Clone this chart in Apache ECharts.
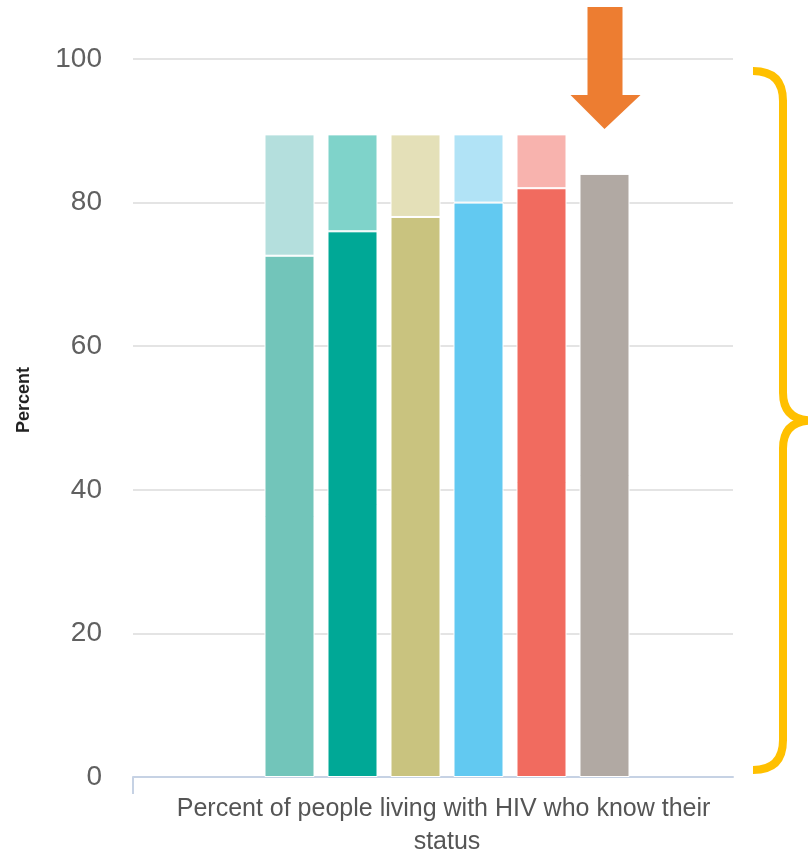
<!DOCTYPE html>
<html>
<head>
<meta charset="utf-8">
<script src="https://cdn.jsdelivr.net/npm/echarts@6/dist/echarts.min.js"></script>
<style>
  html, body { margin: 0; padding: 0; background: #ffffff; }
  #chart { width: 808px; height: 854px; }
</style>
</head>
<body>
<div id="chart"></div>
<script>
// --- data ---
const categories = ['Percent of people living with HIV who know their status'];
const yTicks = [0, 20, 40, 60, 80, 100];
const knowStatus = [72.6, 76, 78, 80, 82, 84];       // solid lower segments
const goal = [89.5, 89.5, 89.5, 89.5, 89.5, null];    // pale upper segments reach this level
const darkColors = ['#72C5BA', '#00A896', '#C9C37F', '#62C9F1', '#F16B5F', '#B1A9A3'];
const lightColors = ['#B4DFDD', '#7FD3CA', '#E4E0B8', '#B1E3F6', '#F8B3AE', null];

const FONT = '"Liberation Sans", Arial, sans-serif';
const AXIS_COLOR = '#C6D2E4';

const chart = echarts.init(document.getElementById('chart'), null, { renderer: 'canvas' });

const series = [];
knowStatus.forEach(function (v, i) {
  series.push({
    type: 'bar', stack: 'group' + i, xAxisIndex: 1, yAxisIndex: 1,
    barWidth: 50, barGap: '26%', silent: true,
    itemStyle: { color: darkColors[i], borderColor: '#ffffff', borderWidth: 1 },
    data: [v]
  });
  if (goal[i] != null) {
    series.push({
      type: 'bar', stack: 'group' + i, xAxisIndex: 1, yAxisIndex: 1,
      barWidth: 50, barGap: '26%', silent: true,
      itemStyle: { color: lightColors[i], borderColor: '#ffffff', borderWidth: 1 },
      data: [+(goal[i] - v).toFixed(2)]
    });
  }
});

chart.setOption({
  animation: false,
  backgroundColor: '#ffffff',
  grid: [
    { left: 133, right: 75, top: 59, bottom: 77, outerBoundsMode: 'none', containLabel: false },
    { left: 133, right: 47, top: 59, bottom: 77, outerBoundsMode: 'none', containLabel: false }
  ],
  xAxis: [
    {
      gridIndex: 0, type: 'category', data: categories,
      axisLine: { lineStyle: { color: AXIS_COLOR, width: 2 } },
      axisTick: { show: false }, axisLabel: { show: false }, splitLine: { show: false }
    },
    {
      gridIndex: 1, type: 'category', data: categories,
      axisLine: { show: false }, axisTick: { show: false },
      axisLabel: {
        color: '#555555', fontSize: 25, fontFamily: FONT, lineHeight: 33,
        margin: 16, width: 570, overflow: 'break', align: 'center'
      }
    }
  ],
  yAxis: [
    {
      gridIndex: 0, type: 'value', min: yTicks[0], max: yTicks[yTicks.length - 1], interval: 20,
      axisLine: { show: false }, axisTick: { show: false },
      axisLabel: { color: '#606060', fontSize: 28, fontFamily: FONT, margin: 31 },
      splitLine: { lineStyle: { color: '#E4E4E4', width: 2 } },
      name: 'Percent', nameLocation: 'middle', nameGap: 100,
      nameTextStyle: { color: '#222222', fontSize: 18, fontWeight: 'bold', fontFamily: FONT, padding: [0, 0, 0, 36] }
    },
    {
      gridIndex: 1, type: 'value', min: yTicks[0], max: yTicks[yTicks.length - 1], interval: 20, show: false
    }
  ],
  series: series
});

// annotations: arrow over the last bar, brace spanning the value range, left axis tick
function barRect(seriesIndex) {
  try {
    return chart.getModel().getSeriesByIndex(seriesIndex).getData().getItemLayout(0);
  } catch (e) {
    return null;
  }
}

const r = barRect(series.length - 1);
const cx = r ? r.x + r.width / 2 : 603.5;
const topY = r ? Math.min(r.y, r.y + r.height) : 173;
const tipY = topY - 45;

const y0 = chart.convertToPixel({ yAxisIndex: 0 }, 0);
const y100 = chart.convertToPixel({ yAxisIndex: 0 }, 100);

const bTop = y100 + 12, bBot = y0 - 7, bMid = (bTop + bBot) / 2;
const bx = 783, hx = 753, tx = 812;
const braceStyle = { stroke: '#FFC000', lineWidth: 8, fill: null, lineCap: 'butt' };

function curve(x1, y1, cpx, cpy, x2, y2) {
  return { type: 'bezierCurve', silent: true, shape: { x1: x1, y1: y1, cpx1: cpx, cpy1: cpy, x2: x2, y2: y2 }, style: braceStyle };
}
function seg(x1, y1, x2, y2) {
  return { type: 'line', silent: true, shape: { x1: x1, y1: y1, x2: x2, y2: y2 }, style: braceStyle };
}

chart.setOption({
  graphic: [
    {
      type: 'line', silent: true,
      shape: { x1: 133, y1: y0, x2: 133, y2: y0 + 17 },
      style: { stroke: AXIS_COLOR, lineWidth: 2 }
    },
    {
      type: 'polygon', silent: true,
      shape: {
        points: [
          [cx - 17, 7], [cx + 18, 7], [cx + 18, tipY - 34], [cx + 36, tipY - 34],
          [cx, tipY], [cx - 34, tipY - 34], [cx - 17, tipY - 34]
        ]
      },
      style: { fill: '#ED7D31' }
    },
    curve(hx, bTop, bx, bTop, bx, bTop + 30),
    seg(bx, bTop + 29, bx, bMid - 27),
    curve(bx, bMid - 28, bx, bMid, tx, bMid),
    curve(tx, bMid, bx, bMid, bx, bMid + 28),
    seg(bx, bMid + 27, bx, bBot - 29),
    curve(bx, bBot - 30, bx, bBot, hx, bBot)
  ]
});
</script>
</body>
</html>
